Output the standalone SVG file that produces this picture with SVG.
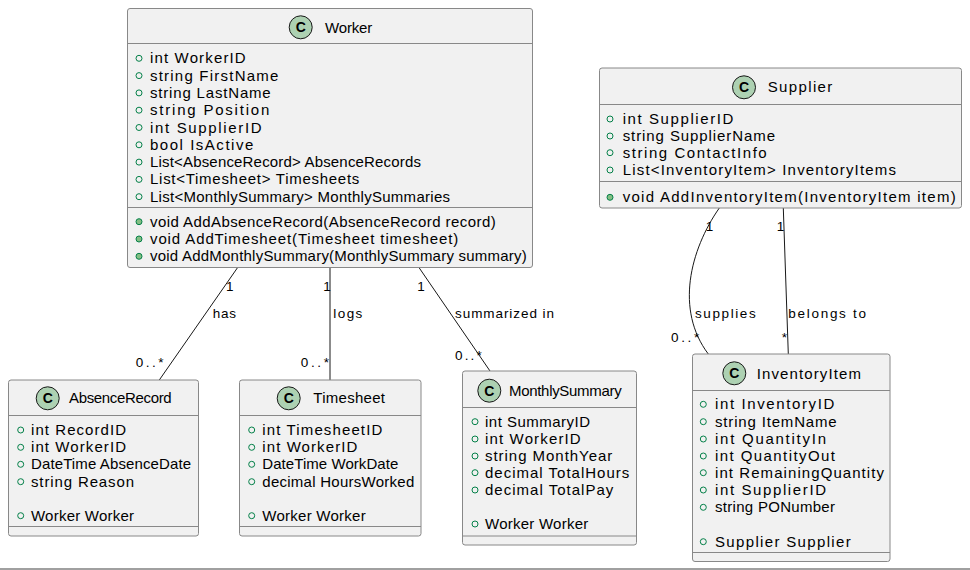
<svg xmlns="http://www.w3.org/2000/svg" width="970" height="570" viewBox="0 0 970 570">
<style>
.box{fill:#F1F1F1;stroke:#888;stroke-width:1}
.sep{stroke:#888;stroke-width:1}
.ic{fill:#ADD1B2;stroke:#181818;stroke-width:1}
.icl{font-family:"Liberation Sans",Arial,sans-serif;font-size:14px;font-weight:bold;fill:#000;text-anchor:middle}
.ttl{font-family:"Liberation Sans",Arial,sans-serif;font-size:15px;fill:#000}
.at{font-family:"Liberation Sans",Arial,sans-serif;font-size:15px;fill:#000}
.ab{fill:none;stroke:#038048;stroke-width:1}
.mb{fill:#84BE84;stroke:#038048;stroke-width:1}
.ln{fill:none;stroke:#181818;stroke-width:1}
.lb{font-family:"Liberation Sans",Arial,sans-serif;font-size:13.5px;fill:#000}
</style>
<rect width="970" height="570" fill="#fff"/>
<g id="connectors">
<path class="ln" d="M237.3,268 L159.3,380"/>
<path class="ln" d="M330,268 L330,380"/>
<path class="ln" d="M419.3,268 L490,371"/>
<path class="ln" d="M719.3,208 C690,250 675,310 708.3,354"/>
<path class="ln" d="M783.3,208 L788.3,354"/>
<text class="lb" x="226" y="291">1</text>
<text class="lb" x="212.7" y="317.7" textLength="23.3">has</text>
<text class="lb" x="135.7" y="366.7" textLength="27.7">0..*</text>
<text class="lb" x="323.3" y="291">1</text>
<text class="lb" x="333.3" y="317.7" textLength="29">logs</text>
<text class="lb" x="300.7" y="366.7" textLength="28.3">0..*</text>
<text class="lb" x="417.3" y="291">1</text>
<text class="lb" x="455" y="317.7" textLength="99">summarized in</text>
<text class="lb" x="455" y="359.5" textLength="26.7">0..*</text>
<text class="lb" x="705.7" y="231">1</text>
<text class="lb" x="695" y="317.7" textLength="60.7">supplies</text>
<text class="lb" x="671" y="341.7" textLength="28.3">0..*</text>
<text class="lb" x="776.7" y="231">1</text>
<text class="lb" x="788.3" y="317.7" textLength="77.7">belongs to</text>
<text class="lb" x="781.7" y="341.7">*</text>
</g>
<g id="Worker">
<rect class="box" x="127.5" y="8.5" width="405" height="259" rx="2.5"/>
<circle class="ic" cx="300.7" cy="27.3" r="11.5"/>
<text class="icl" x="300.7" y="32.3">C</text>
<text class="ttl" x="325" y="33" textLength="47.3">Worker</text>
<line class="sep" x1="127.5" y1="43.5" x2="532.5" y2="43.5"/>
<circle class="ab" cx="139" cy="58.3" r="3"/><text class="at" x="150" y="63.3" textLength="95.7">int WorkerID</text>
<circle class="ab" cx="139" cy="75.6" r="3"/><text class="at" x="150" y="80.6" textLength="128.3">string FirstName</text>
<circle class="ab" cx="139" cy="92.9" r="3"/><text class="at" x="150" y="97.9" textLength="120.7">string LastName</text>
<circle class="ab" cx="139" cy="110.2" r="3"/><text class="at" x="150" y="115.2" textLength="119.3">string Position</text>
<circle class="ab" cx="139" cy="127.5" r="3"/><text class="at" x="150" y="132.5" textLength="111.7">int SupplierID</text>
<circle class="ab" cx="139" cy="144.8" r="3"/><text class="at" x="150" y="149.8" textLength="103.3">bool IsActive</text>
<circle class="ab" cx="139" cy="162.1" r="3"/><text class="at" x="150" y="167.1" textLength="271">List&lt;AbsenceRecord&gt; AbsenceRecords</text>
<circle class="ab" cx="139" cy="179.4" r="3"/><text class="at" x="150" y="184.4" textLength="209.3">List&lt;Timesheet&gt; Timesheets</text>
<circle class="ab" cx="139" cy="196.7" r="3"/><text class="at" x="150" y="201.7" textLength="300">List&lt;MonthlySummary&gt; MonthlySummaries</text>
<line class="sep" x1="127.5" y1="207.5" x2="532.5" y2="207.5"/>
<circle class="mb" cx="139" cy="221.7" r="3"/><text class="at" x="150" y="226.7" textLength="345.7">void AddAbsenceRecord(AbsenceRecord record)</text>
<circle class="mb" cx="139" cy="239" r="3"/><text class="at" x="150" y="244" textLength="308.3">void AddTimesheet(Timesheet timesheet)</text>
<circle class="mb" cx="139" cy="256.3" r="3"/><text class="at" x="150" y="261.3" textLength="376.7">void AddMonthlySummary(MonthlySummary summary)</text>
</g>
<g id="Supplier">
<rect class="box" x="599.5" y="68" width="362" height="140" rx="2.5"/>
<circle class="ic" cx="744" cy="87.3" r="11.5"/>
<text class="icl" x="744" y="92.3">C</text>
<text class="ttl" x="767.7" y="92.3" textLength="64.6">Supplier</text>
<line class="sep" x1="599.5" y1="104.5" x2="961.5" y2="104.5"/>
<circle class="ab" cx="610" cy="119" r="3"/><text class="at" x="622.7" y="124" textLength="110.6">int SupplierID</text>
<circle class="ab" cx="610" cy="136" r="3"/><text class="at" x="622.7" y="141" textLength="152.3">string SupplierName</text>
<circle class="ab" cx="610" cy="152.7" r="3"/><text class="at" x="622.7" y="157.7" textLength="144">string ContactInfo</text>
<circle class="ab" cx="610" cy="170" r="3"/><text class="at" x="622.7" y="175" textLength="273.3">List&lt;InventoryItem&gt; InventoryItems</text>
<line class="sep" x1="599.5" y1="181.5" x2="961.5" y2="181.5"/>
<circle class="mb" cx="610" cy="197.3" r="3"/><text class="at" x="622.7" y="202.3" textLength="333">void AddInventoryItem(InventoryItem item)</text>
</g>
<g id="AbsenceRecord">
<rect class="box" x="8.5" y="380" width="190" height="156" rx="2.5"/>
<circle class="ic" cx="47.7" cy="398.3" r="11.5"/>
<text class="icl" x="47.7" y="403.3">C</text>
<text class="ttl" x="69" y="403.3" textLength="102.7">AbsenceRecord</text>
<line class="sep" x1="8.5" y1="415.5" x2="198.5" y2="415.5"/>
<circle class="ab" cx="20.7" cy="430" r="3"/><text class="at" x="31" y="435" textLength="95">int RecordID</text>
<circle class="ab" cx="20.7" cy="447.3" r="3"/><text class="at" x="31" y="452.3" textLength="95">int WorkerID</text>
<circle class="ab" cx="20.7" cy="464.3" r="3"/><text class="at" x="31" y="469.3" textLength="160">DateTime AbsenceDate</text>
<circle class="ab" cx="20.7" cy="481.7" r="3"/><text class="at" x="31" y="486.7" textLength="103">string Reason</text>
<circle class="ab" cx="20.7" cy="515.7" r="3"/><text class="at" x="31" y="520.7" textLength="103">Worker Worker</text>
<line class="sep" x1="8.5" y1="526.5" x2="198.5" y2="526.5"/>
</g>
<g id="Timesheet">
<rect class="box" x="239.5" y="380" width="181.5" height="156" rx="2.5"/>
<circle class="ic" cx="288.7" cy="398.3" r="11.5"/>
<text class="icl" x="288.7" y="403.3">C</text>
<text class="ttl" x="313.3" y="403.3" textLength="71.7">Timesheet</text>
<line class="sep" x1="239.5" y1="415.5" x2="421" y2="415.5"/>
<circle class="ab" cx="251.7" cy="430" r="3"/><text class="at" x="262.3" y="435" textLength="120">int TimesheetID</text>
<circle class="ab" cx="251.7" cy="447.3" r="3"/><text class="at" x="262.3" y="452.3" textLength="95">int WorkerID</text>
<circle class="ab" cx="251.7" cy="464.3" r="3"/><text class="at" x="262.3" y="469.3" textLength="136">DateTime WorkDate</text>
<circle class="ab" cx="251.7" cy="481.7" r="3"/><text class="at" x="262.3" y="486.7" textLength="152">decimal HoursWorked</text>
<circle class="ab" cx="251.7" cy="515.7" r="3"/><text class="at" x="262.3" y="520.7" textLength="103.4">Worker Worker</text>
<line class="sep" x1="239.5" y1="526.5" x2="421" y2="526.5"/>
</g>
<g id="MonthlySummary">
<rect class="box" x="462.5" y="371" width="174" height="174" rx="2.5"/>
<circle class="ic" cx="489.3" cy="390.7" r="11.5"/>
<text class="icl" x="489.3" y="395.7">C</text>
<text class="ttl" x="509" y="396" textLength="112.7">MonthlySummary</text>
<line class="sep" x1="462.5" y1="407.5" x2="636.5" y2="407.5"/>
<circle class="ab" cx="475" cy="421.7" r="3"/><text class="at" x="485" y="426.7" textLength="105">int SummaryID</text>
<circle class="ab" cx="475" cy="439" r="3"/><text class="at" x="485" y="444" textLength="95.7">int WorkerID</text>
<circle class="ab" cx="475" cy="456" r="3"/><text class="at" x="485" y="461" textLength="127.3">string MonthYear</text>
<circle class="ab" cx="475" cy="472.7" r="3"/><text class="at" x="485" y="477.7" textLength="144.3">decimal TotalHours</text>
<circle class="ab" cx="475" cy="490" r="3"/><text class="at" x="485" y="495" textLength="128.3">decimal TotalPay</text>
<circle class="ab" cx="475" cy="524" r="3"/><text class="at" x="485" y="529" textLength="103.3">Worker Worker</text>
<line class="sep" x1="462.5" y1="536" x2="636.5" y2="536"/>
</g>
<g id="InventoryItem">
<rect class="box" x="692.5" y="354" width="197.5" height="207.5" rx="2.5"/>
<circle class="ic" cx="734.3" cy="373.3" r="11.5"/>
<text class="icl" x="734.3" y="378.3">C</text>
<text class="ttl" x="756.7" y="378.7" textLength="104.3">InventoryItem</text>
<line class="sep" x1="692.5" y1="390.5" x2="890" y2="390.5"/>
<circle class="ab" cx="703.3" cy="404.3" r="3"/><text class="at" x="715" y="409.3" textLength="119.3">int InventoryID</text>
<circle class="ab" cx="703.3" cy="421.7" r="3"/><text class="at" x="715" y="426.7" textLength="121.7">string ItemName</text>
<circle class="ab" cx="703.3" cy="439" r="3"/><text class="at" x="715" y="444" textLength="111">int QuantityIn</text>
<circle class="ab" cx="703.3" cy="456" r="3"/><text class="at" x="715" y="461" textLength="120">int QuantityOut</text>
<circle class="ab" cx="703.3" cy="472.7" r="3"/><text class="at" x="715" y="477.7" textLength="169">int RemainingQuantity</text>
<circle class="ab" cx="703.3" cy="490" r="3"/><text class="at" x="715" y="495" textLength="111">int SupplierID</text>
<circle class="ab" cx="703.3" cy="507.3" r="3"/><text class="at" x="715" y="512.3" textLength="120">string PONumber</text>
<circle class="ab" cx="703.3" cy="541.7" r="3"/><text class="at" x="715" y="546.7" textLength="135.7">Supplier Supplier</text>
<line class="sep" x1="692.5" y1="552.5" x2="890" y2="552.5"/>
</g>
<line x1="0" y1="569" x2="970" y2="569" stroke="#808080" stroke-width="1.5"/>
</svg>
